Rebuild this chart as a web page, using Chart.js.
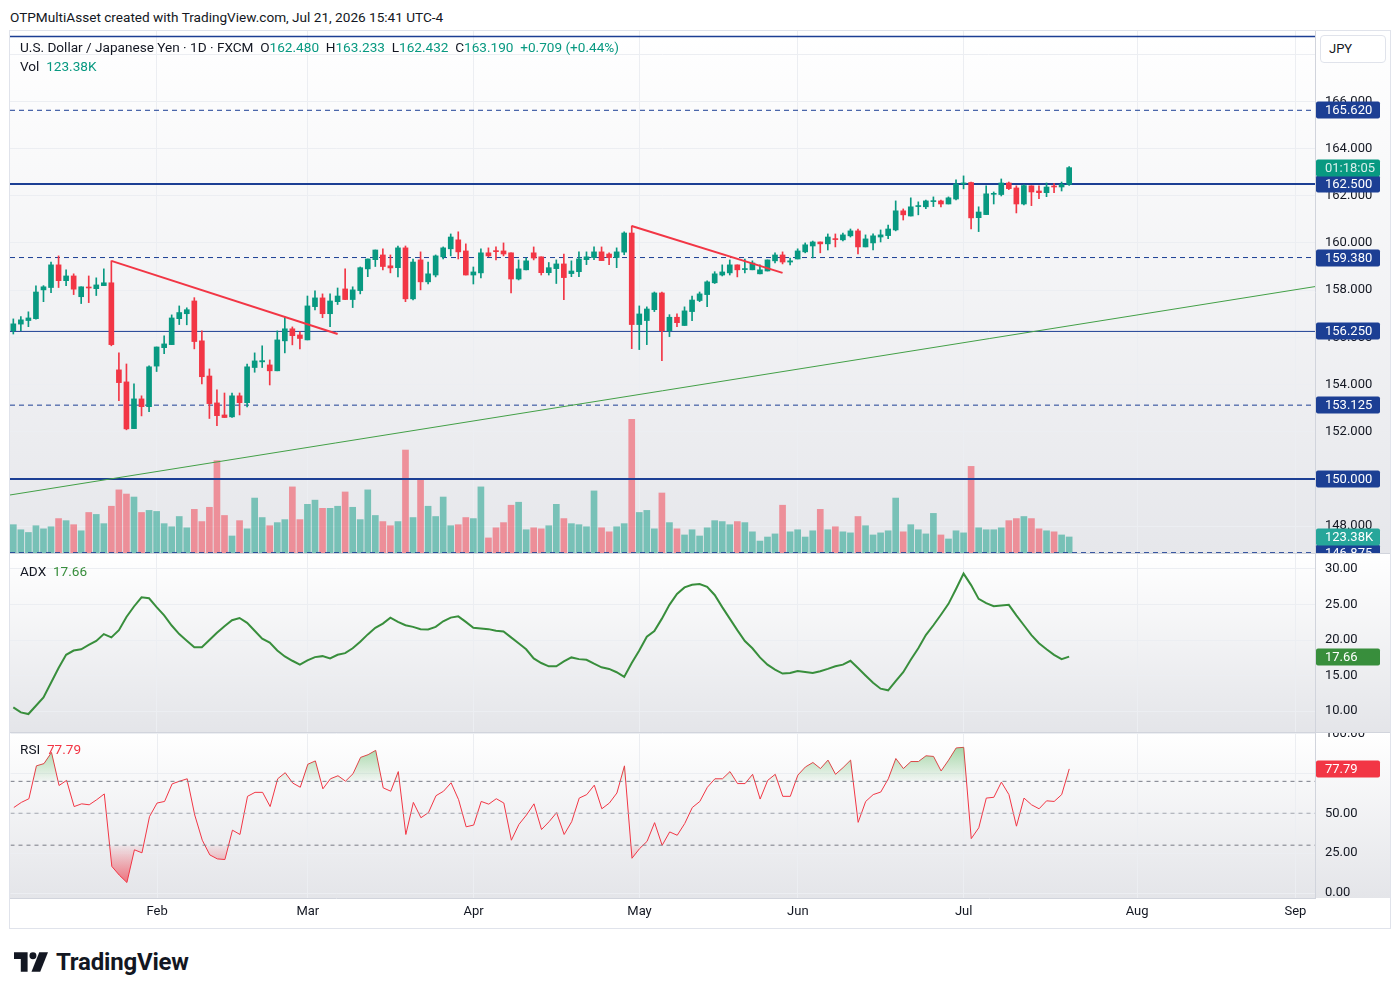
<!DOCTYPE html>
<html>
<head>
<meta charset="utf-8">
<script src="https://cdn.jsdelivr.net/npm/chart.js@4.4.1/dist/chart.umd.min.js"></script>
<style>
  body { margin: 0; background: #fff; width: 1400px; height: 996px; position: relative; overflow: hidden;
         font-family: Roboto, "Liberation Sans", sans-serif; color: #131722; }
  canvas { position: absolute; left: 10px; }
  .txt { position: absolute; font-size: 13.6px; line-height: 16px; white-space: nowrap; color: #131722; }
  .up { color: #089981; }
  #frame { position: absolute; left: 9px; top: 30px; width: 1380px; height: 897px; border: 1px solid #e0e3eb; }
  #jpy { position: absolute; left: 1320px; top: 35px; width: 64px; height: 26px; background: #fff;
         border: 1px solid #e0e3eb; border-radius: 4px; font-size: 13px; line-height: 26px; text-indent: 8px; }
  #brand { position: absolute; left: 14px; top: 948px; height: 28px; display: flex; align-items: center; }
  #brand span { font-size: 24px; font-weight: 700; margin-left: 8px; letter-spacing: -0.2px; }
</style>
</head>
<body>
<div class="txt" style="left:10px;top:9px">OTPMultiAsset created with TradingView.com, Jul 21, 2026 15:41 UTC-4</div>
<div id="frame"></div>
<canvas id="priceChart" width="1380" height="522" style="top:31px"></canvas>
<canvas id="adxChart" width="1380" height="179" style="top:553px"></canvas>
<canvas id="rsiChart" width="1380" height="196" style="top:732px"></canvas>
<div id="jpy">JPY</div>
<div class="txt" style="left:20px;top:39px">U.S. Dollar / Japanese Yen · 1D · FXCM&nbsp; O<span class="up">162.480</span>&nbsp; H<span class="up">163.233</span>&nbsp; L<span class="up">162.432</span>&nbsp; C<span class="up">163.190</span>&nbsp; <span class="up">+0.709 (+0.44%)</span></div>
<div class="txt" style="left:20px;top:58px">Vol&nbsp; <span class="up">123.38K</span></div>
<div class="txt" style="left:20px;top:563px">ADX&nbsp; <span style="color:#388e3c">17.66</span></div>
<div class="txt" style="left:20px;top:741px">RSI&nbsp; <span style="color:#f23645">77.79</span></div>
<div id="brand">
  <svg width="34" height="20" viewBox="0 0 35 20"><path d="M0 0H14V20H7V7H0Z" fill="#131722"/><circle cx="19.5" cy="3.6" r="3.6" fill="#131722"/><path d="M26 0H35L27 20H18Z" fill="#131722"/></svg>
  <span>TradingView</span>
</div>
<script>
// Daily USD/JPY bars, Jan 6 - Jul 21 2026 (index = trading day)
const monthTicks = [19, 39, 61, 83, 104, 126, 149, 170];
const monthLabels = ['Feb', 'Mar', 'Apr', 'May', 'Jun', 'Jul', 'Aug', 'Sep'];

const opens = [
  156.28, 156.56, 156.71, 156.79, 158.01, 158.11, 159.07, 158.40, 158.60, 157.72,
  158.12, 158.06, 158.19, 158.31, 154.62, 154.11, 152.13, 153.39, 153.06, 154.78,
  155.56, 155.69, 156.79, 157.00, 157.54, 155.85, 154.36, 153.22, 152.71, 152.63,
  153.52, 153.23, 154.72, 154.96, 154.83, 154.58, 155.85, 156.36, 156.10, 155.89,
  157.30, 157.67, 157.00, 157.51, 158.05, 157.60, 157.98, 158.90, 159.29, 159.49,
  159.03, 158.95, 159.79, 157.63, 159.28, 158.35, 158.64, 159.41, 159.75, 160.13,
  159.66, 158.64, 158.73, 159.58, 159.66, 159.66, 159.58, 158.47, 158.86, 159.58,
  159.41, 158.74, 158.91, 159.11, 158.70, 158.78, 159.29, 159.38, 159.62, 159.53,
  159.38, 159.61, 160.42, 156.54, 156.71, 157.17, 157.88, 156.28, 156.85, 156.50,
  157.09, 157.56, 157.81, 158.31, 158.64, 158.73, 159.07, 158.87, 158.86, 158.69,
  158.81, 159.24, 159.49, 159.19, 159.32, 159.62, 159.87, 160.04, 159.96, 160.17,
  160.13, 160.30, 160.51, 159.83, 160.00, 160.25, 160.31, 160.55, 161.36, 161.14,
  161.54, 161.53, 161.75, 161.78, 161.65, 161.86, 162.50, 162.56, 161.07, 161.20,
  162.06, 162.05, 162.54, 162.33, 161.65, 162.42, 162.20, 162.13, 162.39, 162.37,
  162.48
];
const highs = [
  156.78, 156.88, 157.08, 158.18, 158.19, 159.19, 159.45, 158.86, 158.69, 158.14,
  158.60, 158.52, 158.90, 159.24, 155.34, 154.87, 154.03, 153.52, 154.79, 155.59,
  156.06, 156.95, 157.33, 157.25, 157.68, 156.27, 154.66, 153.77, 153.64, 153.64,
  153.64, 154.87, 155.34, 155.64, 155.04, 156.27, 156.86, 156.44, 156.23, 157.75,
  157.97, 157.84, 157.84, 158.09, 158.90, 158.14, 158.98, 159.32, 159.70, 159.75,
  159.49, 159.87, 159.87, 159.32, 159.62, 159.19, 159.49, 159.83, 160.38, 160.47,
  159.96, 158.98, 159.75, 159.79, 159.83, 160.00, 159.58, 159.28, 159.36, 159.83,
  159.41, 159.17, 159.28, 159.53, 159.24, 159.62, 159.62, 159.83, 159.83, 159.58,
  159.79, 160.47, 160.72, 157.33, 157.29, 157.92, 157.92, 156.96, 156.99, 157.29,
  157.75, 157.92, 158.39, 158.78, 159.07, 159.28, 159.07, 159.32, 159.24, 159.07,
  159.28, 159.58, 159.62, 159.36, 159.75, 160.00, 160.08, 160.04, 160.38, 160.38,
  160.42, 160.59, 160.59, 160.34, 160.38, 160.55, 160.76, 161.78, 161.44, 161.91,
  161.74, 161.82, 161.95, 161.82, 161.95, 162.67, 162.84, 162.58, 161.53, 162.42,
  162.16, 162.71, 162.58, 162.42, 162.46, 162.42, 162.42, 162.54, 162.51, 162.58,
  163.233
];
const lows = [
  156.14, 156.28, 156.45, 156.77, 157.51, 157.89, 158.11, 158.19, 157.81, 157.43,
  157.47, 157.77, 158.19, 155.64, 153.32, 152.08, 152.13, 152.67, 152.85, 154.55,
  155.31, 155.69, 156.54, 156.53, 155.51, 154.03, 152.56, 152.26, 152.60, 152.60,
  152.71, 153.05, 154.52, 154.72, 153.98, 154.58, 155.34, 155.68, 155.51, 155.89,
  157.16, 156.83, 156.45, 157.39, 157.60, 157.26, 157.84, 158.57, 159.00, 158.86,
  158.73, 158.56, 157.51, 157.58, 158.01, 158.26, 158.56, 159.32, 159.45, 159.32,
  158.64, 158.26, 158.52, 159.41, 159.28, 159.45, 157.88, 158.43, 158.86, 159.28,
  158.64, 158.64, 158.28, 157.60, 158.57, 158.57, 159.08, 159.29, 159.25, 159.08,
  158.95, 159.50, 155.52, 155.48, 155.69, 157.09, 155.01, 156.03, 156.45, 156.50,
  156.71, 157.51, 157.30, 158.28, 158.60, 158.64, 158.56, 158.73, 158.86, 158.69,
  158.81, 159.15, 159.11, 159.07, 159.32, 159.58, 159.36, 159.58, 159.70, 159.83,
  160.08, 160.25, 159.53, 159.83, 159.70, 160.04, 160.18, 160.51, 160.97, 161.14,
  161.19, 161.45, 161.54, 161.53, 161.65, 161.82, 162.29, 160.59, 160.48, 161.20,
  161.65, 161.99, 162.26, 161.27, 161.61, 161.58, 161.88, 161.96, 162.13, 162.20,
  162.432
];
const closes = [
  156.57, 156.74, 156.82, 157.92, 158.14, 159.07, 158.40, 158.60, 158.04, 158.14,
  158.09, 158.22, 158.31, 155.69, 154.08, 152.12, 153.39, 153.06, 154.75, 155.59,
  155.72, 156.82, 157.05, 157.17, 155.82, 154.33, 153.19, 152.68, 152.60, 153.52,
  153.23, 154.75, 155.00, 155.01, 154.58, 155.89, 156.36, 156.07, 155.95, 157.33,
  157.67, 157.00, 157.54, 157.75, 157.60, 158.01, 158.95, 159.32, 159.70, 159.00,
  158.94, 159.79, 157.63, 159.19, 158.35, 158.69, 159.45, 159.79, 160.25, 159.62,
  158.64, 158.77, 159.58, 159.45, 159.63, 159.53, 158.47, 158.90, 159.24, 159.36,
  158.74, 158.95, 159.11, 158.53, 158.81, 159.32, 159.41, 159.62, 159.25, 159.38,
  159.62, 160.42, 156.54, 156.99, 157.20, 157.88, 156.28, 156.85, 156.62, 157.12,
  157.58, 157.84, 158.35, 158.69, 158.77, 159.07, 158.86, 158.90, 159.15, 158.86,
  159.28, 159.49, 159.19, 159.24, 159.66, 159.92, 160.04, 159.96, 160.25, 160.14,
  160.34, 160.51, 159.83, 160.17, 160.30, 160.34, 160.59, 161.36, 161.19, 161.53,
  161.58, 161.78, 161.78, 161.65, 161.91, 162.50, 162.53, 161.06, 161.31, 162.08,
  162.09, 162.54, 162.30, 161.65, 162.43, 162.16, 162.13, 162.37, 162.37, 162.48,
  163.19
];
// volume in thousands
const volumes = [
  218, 179, 158, 210, 186, 202, 265, 249, 218, 171,
  312, 297, 226, 360, 486, 454, 431, 312, 328, 320,
  226, 202, 281, 194, 336, 242, 352, 711, 289, 131,
  249, 186, 423, 273, 210, 234, 257, 509, 257, 375,
  407, 344, 344, 360, 470, 352, 257, 486, 289, 242,
  210, 242, 793, 273, 572, 360, 281, 431, 210, 218,
  273, 265, 509, 116, 194, 234, 368, 391, 179, 194,
  186, 210, 375, 265, 226, 218, 202, 478, 194, 163,
  202, 226, 1029, 312, 328, 186, 462, 234, 186, 139,
  179, 131, 194, 249, 242, 218, 242, 234, 163, 92,
  123, 147, 368, 163, 179, 123, 171, 336, 179, 202,
  163, 155, 281, 210, 139, 155, 171, 423, 163, 218,
  179, 147, 305, 139, 108, 171, 155, 667, 194, 179,
  179, 194, 249, 265, 281, 265, 186, 171, 163, 139,
  123.38
];
const adxValues = [
  10.51, 9.81, 9.58, 10.74, 11.9, 13.98, 16.06, 17.92, 18.52, 18.7,
  19.3, 19.86, 20.83, 20.37, 21.39, 23.24, 24.72, 26.02, 25.88, 24.63,
  23.47, 22.04, 20.83, 19.91, 18.98, 18.98, 20.0, 21.02, 21.94, 22.78,
  23.1, 22.41, 21.3, 20.19, 19.63, 18.52, 17.69, 17.08, 16.53, 17.13,
  17.59, 17.73, 17.41, 17.92, 18.15, 18.84, 19.77, 20.79, 21.71, 22.31,
  23.15, 22.55, 22.08, 21.85, 21.53, 21.48, 21.85, 22.64, 23.15, 23.33,
  22.55, 21.71, 21.62, 21.53, 21.3, 21.2, 20.37, 19.54, 18.7, 17.41,
  16.76, 16.3, 16.3, 16.99, 17.55, 17.31, 17.22, 16.67, 16.16, 15.93,
  15.46, 14.81, 16.76, 18.52, 20.46, 21.25, 23.01, 24.95, 26.48, 27.41,
  27.78, 27.87, 27.5, 26.34, 24.63, 23.01, 21.39, 19.86, 18.84, 17.55,
  16.53, 15.83, 15.28, 15.37, 15.65, 15.51, 15.37, 15.6, 15.93, 16.3,
  16.53, 17.08, 16.06, 15.0, 13.98, 13.15, 12.92, 14.21, 15.46, 17.22,
  18.84, 20.69, 22.08, 23.56, 25.09, 27.18, 29.35, 27.73, 25.79, 25.19,
  24.77, 24.86, 24.95, 23.47, 22.08, 20.69, 19.54, 18.7, 17.92, 17.31,
  17.66
];
const rsiValues = [
  53.6, 56.8, 59.1, 79.7, 81.1, 88.1, 67.4, 70.6, 54.2, 55.9,
  55.3, 58.5, 62.1, 16.7, 11.2, 6.6, 27.1, 25.2, 47.9, 56.4,
  57.4, 68.4, 70.1, 71.6, 48.9, 33.1, 23.9, 21.4, 21.0, 39.4,
  36.7, 60.6, 63.1, 63.1, 54.2, 71.6, 75.4, 68.9, 66.3, 80.7,
  82.8, 65.3, 71.6, 73.5, 70.1, 74.8, 85.0, 86.7, 89.4, 65.9,
  63.8, 76.1, 36.7, 56.8, 47.2, 50.4, 61.0, 63.8, 69.1, 58.5,
  41.5, 42.6, 57.4, 55.7, 59.1, 56.4, 33.1, 43.0, 48.9, 55.9,
  39.8, 44.7, 50.4, 36.7, 44.7, 59.5, 61.7, 67.6, 52.8, 56.4,
  62.7, 79.7, 21.8, 27.8, 32.4, 44.1, 29.9, 38.3, 36.2, 43.6,
  53.6, 57.4, 66.3, 71.6, 71.6, 76.1, 68.6, 68.6, 74.4, 58.9,
  70.6, 74.4, 60.6, 60.6, 73.9, 79.0, 81.8, 78.0, 83.3, 74.4,
  78.6, 83.3, 44.3, 57.4, 61.7, 63.3, 71.6, 84.3, 78.0, 82.4,
  82.4, 86.0, 85.6, 76.5, 83.3, 90.9, 91.3, 34.1, 40.9, 59.5,
  60.0, 69.5, 61.7, 41.9, 59.5, 55.3, 52.8, 57.8, 57.4, 61.7,
  77.79
];

// horizontal levels drawn on the chart
const levels = [168.75, 165.62, 162.5, 159.38, 156.25, 153.125, 150, 146.875];
const levelDashed = [false, true, false, true, false, true, false, true];
// trend lines: [barIndex, price]
const redTrendA = [[13, 159.24], [43, 156.14]];
const redTrendB = [[82, 160.72], [102, 158.73]];
const greenTrend = [[-1, 149.29], [173, 158.17]];

const priceTicks = [148, 150, 152, 154, 156, 158, 160, 162, 164, 166, 168];
const adxTicks = [10, 15, 20, 25, 30];
const rsiTicks = [0, 25, 50, 75, 100];
const rsiBands = [70, 50, 30];
const countdown = '01:18:05';

// ---- styles ----
const upColor = '#089981';
const downColor = '#f23645';
const levelColor = '#1c3f94';
const levelWidths = [1.5, 1, 2, 1, 1, 1, 2, 1];
const gridColor = '#eceef2';
const xMin = -0.44, xMax = 172.6;
const priceMin = 146.86, priceMax = 168.98;

Chart.defaults.font.family = 'Roboto, "Liberation Sans", sans-serif';
Chart.defaults.font.size = 13;
Chart.defaults.color = '#131722';

const idx = opens.map((o, i) => i);
const isUp = idx.map(i => closes[i] >= opens[i]);
const candleColors = idx.map(i => isUp[i] ? upColor : downColor);
const volColors = idx.map(i => isUp[i] ? 'rgba(8,153,129,0.5)' : 'rgba(242,54,69,0.5)');
const last = opens.length - 1;

// background gradient + panel separator + boxes on the price axis
const paneBackground = {
  id: 'paneBackground',
  beforeDraw(chart, args, opts) {
    const ctx = chart.ctx;
    const bottom = chart.chartArea.bottom;
    const g = ctx.createLinearGradient(0, 0, 0, bottom);
    g.addColorStop(0, '#ffffff');
    g.addColorStop(1, opts.bottom || '#e8e9ed');
    ctx.save();
    ctx.fillStyle = g;
    ctx.fillRect(0, 0, chart.width, bottom);
    ctx.fillStyle = '#ffffff';
    ctx.fillRect(0, bottom, chart.width, chart.height - bottom);
    ctx.restore();
  },
  afterDraw(chart, args, opts) {
    const ctx = chart.ctx;
    const area = chart.chartArea;
    (opts.boxes || []).forEach(b => {
      const y = chart.scales[b.axis].getPixelForValue(b.value);
      ctx.save();
      ctx.fillStyle = b.color;
      ctx.beginPath();
      ctx.roundRect(area.right + 1, Math.round(y) - 8.5, 64, 17, 2);
      ctx.fill();
      ctx.fillStyle = b.textColor || '#ffffff';
      ctx.font = '13px Roboto, "Liberation Sans", sans-serif';
      ctx.textBaseline = 'middle';
      ctx.fillText(b.text, area.right + 10, Math.round(y) + 0.5);
      ctx.restore();
    });
    if (opts.topLine) {
      ctx.save();
      ctx.strokeStyle = '#d1d4dc';
      ctx.lineWidth = 1;
      ctx.beginPath();
      ctx.moveTo(0, 0.5);
      ctx.lineTo(chart.width, 0.5);
      ctx.stroke();
      ctx.restore();
    }
  }
};

function xScale(showLabels) {
  return {
    type: 'linear', min: xMin, max: xMax, offset: false,
    grid: { color: gridColor, drawTicks: false, offset: false },
    border: { display: showLabels, color: '#d1d4dc' },
    ticks: {
      display: showLabels, padding: 6, maxRotation: 0, autoSkip: false,
      callback: v => monthLabels[monthTicks.indexOf(v)]
    },
    afterBuildTicks: s => { s.ticks = monthTicks.map(v => ({ value: v })); },
    afterFit: s => { s.height = showLabels ? 30 : 0; s.paddingLeft = 0; s.paddingRight = 0; }
  };
}

function yScale(min, max, ticks, digits) {
  return {
    position: 'right', min: min, max: max,
    grid: { color: gridColor, drawTicks: false },
    border: { color: '#d1d4dc' },
    ticks: { padding: 10, callback: v => v.toFixed(digits) },
    afterBuildTicks: s => { s.ticks = ticks.map(v => ({ value: v })); },
    afterFit: s => { s.width = 75; s.paddingTop = 0; s.paddingBottom = 0; }
  };
}

function linePoints(pairs) {
  return pairs.map(p => ({ x: p[0], y: p[1] }));
}

const baseOptions = {
  responsive: false,
  animation: false,
  events: [],
  devicePixelRatio: 1,
  layout: { padding: 0 }
};

// ---- price pane ----
const priceDatasets = [
  {
    type: 'bar', yAxisID: 'yVol', grouped: false, order: 10,
    data: idx.map(i => ({ x: i, y: volumes[i] })),
    backgroundColor: volColors, barThickness: 6
  }
];
levels.forEach((v, k) => {
  priceDatasets.push({
    type: 'line', order: 6, pointRadius: 0,
    data: [{ x: xMin, y: v }, { x: xMax, y: v }],
    borderColor: levelColor, borderWidth: levelWidths[k],
    borderDash: levelDashed[k] ? [5, 4] : []
  });
});
priceDatasets.push(
  { type: 'line', order: 5, pointRadius: 0, data: linePoints(greenTrend), borderColor: '#43a047', borderWidth: 1 },
  {
    type: 'bar', grouped: false, order: 2,
    data: idx.map(i => ({ x: i, y: [lows[i], highs[i]] })),
    backgroundColor: candleColors, barThickness: 1
  },
  {
    type: 'bar', grouped: false, order: 1, minBarLength: 1,
    data: idx.map(i => ({ x: i, y: [opens[i], closes[i]] })),
    backgroundColor: candleColors, barThickness: 5
  },
  { type: 'line', order: 0, pointRadius: 0, data: linePoints(redTrendA), borderColor: '#f23645', borderWidth: 2 },
  { type: 'line', order: 0, pointRadius: 0, data: linePoints(redTrendB), borderColor: '#f23645', borderWidth: 2 }
);

// level tags on the axis (the top one sits under the currency button)
const priceBoxes = levels.filter(v => v < priceMax - 0.5)
  .map(v => ({ axis: 'y', value: v, color: levelColor, text: v.toFixed(3) }));
priceBoxes.push({ axis: 'yVol', value: volumes[last], color: '#26a69a', text: volumes[last].toFixed(2) + 'K' });
priceBoxes.push({ axis: 'y', value: closes[last], color: upColor, text: countdown, textColor: 'rgba(255,255,255,0.85)' });

new Chart(document.getElementById('priceChart'), {
  type: 'bar',
  data: { datasets: priceDatasets },
  options: Object.assign({}, baseOptions, {
    scales: {
      x: xScale(false),
      y: yScale(priceMin, priceMax, priceTicks, 3),
      yVol: { display: false, min: 0, max: 4020 }
    },
    plugins: {
      legend: { display: false }, tooltip: { enabled: false },
      paneBackground: { bottom: '#e6e7eb', boxes: priceBoxes }
    }
  }),
  plugins: [paneBackground]
});

// ---- ADX pane ----
new Chart(document.getElementById('adxChart'), {
  type: 'line',
  data: {
    datasets: [{
      data: idx.map(i => ({ x: i, y: adxValues[i] })),
      borderColor: '#388e3c', borderWidth: 2, pointRadius: 0, tension: 0
    }]
  },
  options: Object.assign({}, baseOptions, {
    scales: { x: xScale(false), y: yScale(7.05, 32.25, adxTicks, 2) },
    plugins: {
      legend: { display: false }, tooltip: { enabled: false },
      paneBackground: {
        bottom: '#e4e5e9', topLine: true,
        boxes: [{ axis: 'y', value: adxValues[last], color: '#388e3c', text: adxValues[last].toFixed(2) }]
      }
    }
  }),
  plugins: [paneBackground]
});

// ---- RSI pane ----
const rsiPoints = idx.map(i => ({ x: i, y: rsiValues[i] }));
const rsiDatasets = rsiBands.map(v => ({
  data: [{ x: xMin, y: v }, { x: xMax, y: v }],
  borderColor: v === 50 ? '#a3a6af' : '#787b86', borderWidth: 1, borderDash: [4, 4], pointRadius: 0
}));
rsiDatasets.push(
  {
    data: rsiPoints, borderWidth: 0, pointRadius: 0,
    fill: { target: { value: 70 }, above: 'rgba(76,175,80,0.3)', below: 'rgba(0,0,0,0)' }
  },
  {
    data: rsiPoints, borderWidth: 0, pointRadius: 0,
    fill: { target: { value: 30 }, above: 'rgba(0,0,0,0)', below: 'rgba(242,54,69,0.4)' }
  },
  { data: rsiPoints, borderColor: '#f23645', borderWidth: 1, pointRadius: 0, tension: 0 }
);

const rsiChart = new Chart(document.getElementById('rsiChart'), {
  type: 'line',
  data: { datasets: rsiDatasets },
  options: Object.assign({}, baseOptions, {
    scales: { x: xScale(true), y: yScale(-3.1, 100.6, rsiTicks, 2) },
    plugins: {
      legend: { display: false }, tooltip: { enabled: false },
      paneBackground: {
        bottom: '#e4e5e9', topLine: true,
        boxes: [{ axis: 'y', value: rsiValues[last], color: '#f23645', text: rsiValues[last].toFixed(2) }]
      }
    }
  }),
  plugins: [paneBackground]
});

// gradient fills for overbought / oversold zones
const ry = rsiChart.scales.y;
const rctx = rsiChart.ctx;
const gUp = rctx.createLinearGradient(0, ry.getPixelForValue(92), 0, ry.getPixelForValue(70));
gUp.addColorStop(0, 'rgba(76,175,80,0.5)');
gUp.addColorStop(1, 'rgba(76,175,80,0.04)');
const gDown = rctx.createLinearGradient(0, ry.getPixelForValue(30), 0, ry.getPixelForValue(5));
gDown.addColorStop(0, 'rgba(242,54,69,0.04)');
gDown.addColorStop(1, 'rgba(242,54,69,0.7)');
rsiChart.data.datasets[3].fill.above = gUp;
rsiChart.data.datasets[4].fill.below = gDown;
rsiChart.update('none');
</script>
</body>
</html>
